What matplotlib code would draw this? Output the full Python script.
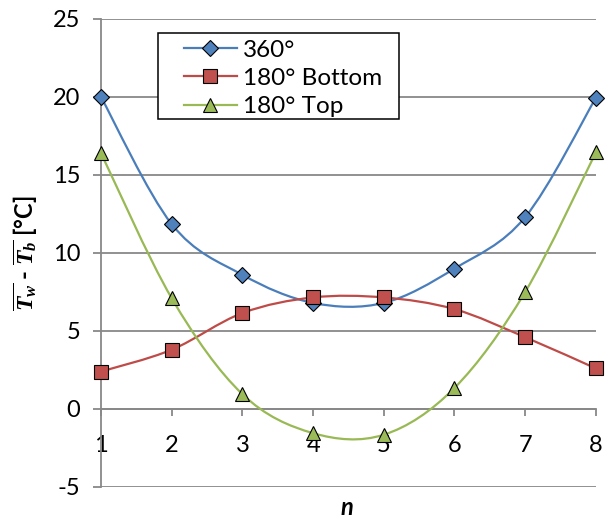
import numpy as np
import matplotlib
matplotlib.use('Agg')
import matplotlib.pyplot as plt
from matplotlib.path import Path
from matplotlib.patches import PathPatch, Rectangle
from matplotlib.lines import Line2D

# values
n = [1, 2, 3, 4, 5, 6, 7, 8]
dt_360 = [20.0, 11.85, 8.6, 6.8, 6.8, 9.0, 12.3, 19.95]
dt_180_bottom = [2.4, 3.8, 6.15, 7.15, 7.15, 6.4, 4.6, 2.6]
dt_180_top = [16.4, 7.1, 0.95, -1.55, -1.65, 1.35, 7.5, 16.45]
series_names = ['360°', '180° Bottom', '180° Top']
y_ticks = [-5, 0, 5, 10, 15, 20, 25]

plt.rcParams['font.family'] = ['Lato', 'DejaVu Sans']
plt.rcParams['axes.unicode_minus'] = False
plt.rcParams['mathtext.fontset'] = 'custom'
plt.rcParams['mathtext.it'] = 'Liberation Serif:italic:bold'
plt.rcParams['mathtext.rm'] = 'Liberation Serif:bold'
plt.rcParams['mathtext.bf'] = 'Liberation Serif:bold'

grid_col = '#888888'


def smooth_path(x, y):
    # Excel-style smoothed line: Catmull-Rom segments as cubic Bezier curves
    pts = np.column_stack([x, y]).astype(float)
    ext = np.vstack([pts[0], pts, pts[-1]])
    verts = [pts[0]]
    codes = [Path.MOVETO]
    for i in range(len(pts) - 1):
        p0, p1, p2, p3 = ext[i], ext[i + 1], ext[i + 2], ext[i + 3]
        verts += [p1 + (p2 - p0) / 6, p2 - (p3 - p1) / 6, p2]
        codes += [Path.CURVE4] * 3
    return Path(verts, codes)


fig = plt.figure(figsize=(6.14, 5.19), dpi=100)
ax = fig.add_axes([0.1645, 0.0617, 0.806, 0.9017])

styles = [
    (dt_360, '#4A7EBB', '#4F81BD', 'D', 8),
    (dt_180_bottom, '#BE4B48', '#C0504D', 's', 9.5),
    (dt_180_top, '#98B954', '#9BBB59', '^', 10.5),
]

handles = []
z = 3
for (vals, lc, fc, mk, ms), name in zip(styles, series_names):
    ax.add_patch(PathPatch(smooth_path(n, vals), facecolor='none', edgecolor=lc,
                           lw=1.6, zorder=z, clip_on=False))
    ax.plot(n, vals, linestyle='none', marker=mk, markersize=ms, markerfacecolor=fc,
            markeredgecolor='black', markeredgewidth=0.8, zorder=z + 0.5, clip_on=False)
    handles.append(Line2D([], [], color=lc, lw=1.6, marker=mk, markersize=ms,
                          markerfacecolor=fc, markeredgecolor='black', markeredgewidth=0.8))
    z += 1

ax.set_xlim(1, 8)
ax.set_ylim(-5, 25)
ax.set_xticks(n)
ax.set_yticks(y_ticks)
ax.grid(axis='y', color=grid_col, lw=1.3)
ax.set_axisbelow(True)

for s in ['top', 'right']:
    ax.spines[s].set_visible(False)
ax.spines['left'].set_color(grid_col)
ax.spines['left'].set_linewidth(1.3)
ax.spines['bottom'].set_position(('data', 0))
ax.spines['bottom'].set_color(grid_col)
ax.spines['bottom'].set_linewidth(1.3)

ax.tick_params(axis='y', direction='out', length=6, width=1.3, color=grid_col,
               pad=9, labelsize=17)
ax.tick_params(axis='x', direction='out', length=5, width=1.3, color=grid_col,
               pad=14, labelsize=17)

ax.set_ylabel(r'$\overline{T_w}$ - $\overline{T_b}$ [°C]', fontsize=17, fontweight='bold')
ax.yaxis.set_label_coords(-0.123, 0.5)
ax.set_xlabel('n', fontsize=17, fontweight='bold', style='italic')
ax.xaxis.set_label_coords(0.497, -0.0684)
ax.xaxis.label.set_va('bottom')

# legend with Excel-like square frame
ax.add_patch(Rectangle((0.115, 0.787), 0.487, 0.183, transform=ax.transAxes,
                       facecolor='white', edgecolor='black', lw=1.1, zorder=7))
leg = ax.legend(handles, series_names, loc='upper left', bbox_to_anchor=(0.167, 0.956),
                borderaxespad=0, frameon=False, fontsize=17.5, handlelength=2.2,
                handletextpad=0.25, labelspacing=0.3, borderpad=0, numpoints=1)
leg.set_zorder(8)

fig.savefig('out.png', dpi=100)
